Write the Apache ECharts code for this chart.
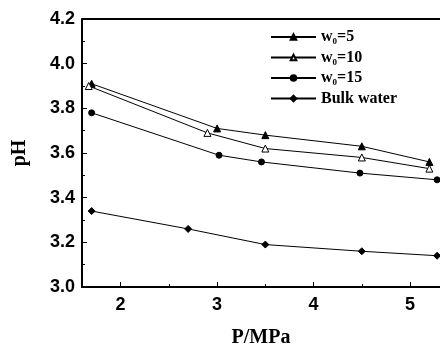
<!DOCTYPE html>
<html>
<head>
<meta charset="utf-8">
<script src="https://cdn.jsdelivr.net/npm/echarts@6/dist/echarts.min.js"></script>
<style>
  html, body { margin: 0; padding: 0; background: #fff; }
  #chart { width: 440px; height: 345px; }
</style>
</head>
<body>
<div id="chart"></div>
<script>
// data
var seriesNames = ['w0=5', 'w0=10', 'w0=15', 'Bulk water'];
var w5 = [[1.7, 3.91], [3.0, 3.71], [3.5, 3.68], [4.5, 3.63], [5.2, 3.56]];
var w10 = [[1.67, 3.90], [2.9, 3.69], [3.5, 3.62], [4.5, 3.58], [5.2, 3.53]];
var w15 = [[1.7, 3.78], [3.02, 3.59], [3.46, 3.56], [4.48, 3.51], [5.28, 3.48]];
var bulk = [[1.7, 3.34], [2.7, 3.26], [3.5, 3.19], [4.5, 3.16], [5.28, 3.14]];
var xTicks = [2, 3, 4, 5];

var chart = echarts.init(document.getElementById('chart'));

var serif = '"Liberation Serif", "DejaVu Serif", serif';
var sans = '"Liberation Sans", Arial, sans-serif';

function makeSeries(name, data, symbol, filled, size) {
    return {
        name: name,
        type: 'line',
        data: data,
        symbol: symbol,
        symbolSize: size,
        showAllSymbol: true,
        lineStyle: { color: '#000', width: 1 },
        itemStyle: {
            color: filled ? '#000' : '#fff',
            borderColor: '#000',
            borderWidth: 1
        },
        emphasis: { disabled: true }
    };
}

var diamond = 'path://M0,-1L1,0L0,1L-1,0Z';

var option = {
    animation: false,
    backgroundColor: '#fff',
    grid: { left: 82, top: 19, right: 0, bottom: 58, outerBoundsMode: 'none' },
    legend: {
        left: 265,
        top: 24,
        orient: 'vertical',
        itemWidth: 45,
        itemHeight: 7,
        itemGap: 3,
        data: seriesNames,
        formatter: function (name) {
            if (name.indexOf('w0') === 0) {
                return 'w{sub|0}' + name.slice(2);
            }
            return name;
        },
        textStyle: {
            fontFamily: serif,
            fontWeight: 'bold',
            fontSize: 16,
            color: '#000',
            rich: {
                sub: {
                    fontFamily: serif,
                    fontWeight: 'bold',
                    fontSize: 9,
                    verticalAlign: 'bottom',
                    padding: [10, 0, 0, 0]
                }
            }
        }
    },
    xAxis: {
        type: 'value',
        min: 1.6,
        max: 5.31,
        name: 'P/MPa',
        nameLocation: 'middle',
        nameGap: 41,
        nameTextStyle: { fontFamily: serif, fontWeight: 'bold', fontSize: 20, color: '#000' },
        axisLine: { lineStyle: { color: '#000', width: 2 } },
        axisTick: {
            inside: true, length: 5, lineStyle: { color: '#000', width: 1 },
            customValues: xTicks
        },
        minorTick: { show: true, splitNumber: 2, length: 3, lineStyle: { color: '#000' } },
        axisLabel: {
            customValues: xTicks,
            fontFamily: sans, fontWeight: 'bold', fontSize: 18, color: '#000', margin: 9
        },
        splitLine: { show: false }
    },
    yAxis: {
        type: 'value',
        min: 3.0,
        max: 4.2,
        interval: 0.2,
        name: 'pH',
        nameLocation: 'middle',
        nameGap: 52,
        nameTextStyle: { fontFamily: serif, fontWeight: 'bold', fontSize: 20, color: '#000' },
        axisLine: { show: true, lineStyle: { color: '#000', width: 2 } },
        axisTick: { inside: true, length: 5, lineStyle: { color: '#000', width: 1 } },
        minorTick: { show: true, splitNumber: 2, length: 3, lineStyle: { color: '#000' } },
        axisLabel: {
            fontFamily: sans, fontWeight: 'bold', fontSize: 18, color: '#000', margin: 7,
            formatter: function (v) { return v.toFixed(1); }
        },
        splitLine: { show: false }
    },
    series: [
        makeSeries(seriesNames[0], w5, 'triangle', true, 7),
        makeSeries(seriesNames[1], w10, 'triangle', false, 7),
        makeSeries(seriesNames[2], w15, 'circle', true, 6),
        makeSeries(seriesNames[3], bulk, diamond, true, 7)
    ],
    graphic: [{
        type: 'line',
        shape: { x1: 82, y1: 19, x2: 440, y2: 19 },
        style: { stroke: '#000', lineWidth: 2 }
    }]
};

chart.setOption(option);
</script>
</body>
</html>
